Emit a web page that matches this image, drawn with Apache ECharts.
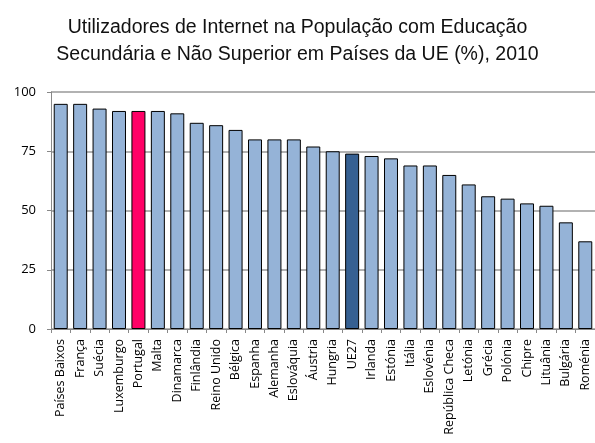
<!DOCTYPE html>
<html><head><meta charset="utf-8">
<script src="https://cdn.jsdelivr.net/npm/echarts@6/dist/echarts.min.js"></script>
<style>html,body{margin:0;padding:0;background:#fff}#c{width:595px;height:443px}</style>
</head><body><div id="c"></div>
<script>
const categories = ["Países Baixos","França","Suécia","Luxemburgo","Portugal","Malta","Dinamarca","Finlândia","Reino Unido","Bélgica","Espanha","Alemanha","Eslováquia","Áustria","Hungria","UE27","Irlanda","Estónia","Itália","Eslovénia","República Checa","Letónia","Grécia","Polónia","Chipre","Lituânia","Bulgária","Roménia"];
const values = [95,95,93,92,92,92,91,87,86,84,80,80,80,77,75,74,73,72,69,69,65,61,56,55,53,52,45,37];
const yTicks = [0,25,50,75,100];
const titleLines = ["Utilizadores de Internet na População com Educação","Secundária e Não Superior em Países da UE (%), 2010"];
const highlight = {"Portugal":"#FF0066","UE27":"#366092"};
const baseColor = "#95B3D7";

const chart = echarts.init(document.getElementById('c'));
chart.setOption({
  animation:false,
  title:{text:titleLines.join("\n"),left:'center',top:9,
    textStyle:{fontFamily:'Liberation Sans',fontSize:19.5,fontWeight:'normal',color:'#111',lineHeight:27}},
  grid:{left:51,right:0,top:92,bottom:114,containLabel:false},
  xAxis:{type:'category',data:categories,
    axisLine:{lineStyle:{color:'#888',width:1}},
    axisTick:{show:true,alignWithLabel:false,length:4,lineStyle:{color:'#888'}},
    axisLabel:{rotate:90,interval:0,fontFamily:'Open Sans',fontSize:12.5,color:'#000',margin:10}},
  yAxis:{type:'value',min:yTicks[0],max:yTicks[yTicks.length-1],interval:25,
    axisLine:{show:true,lineStyle:{color:'#888'}},
    axisTick:{show:true,length:4,lineStyle:{color:'#888'}},
    splitLine:{lineStyle:{color:'#999',width:1.5}},
    axisLabel:{fontFamily:'Open Sans',fontSize:13,color:'#000',margin:15}},
  series:[{type:'bar',barCategoryGap:'28%',
    data:values.map((v,i)=>({value:v,itemStyle:{color:highlight[categories[i]]||baseColor}})),
    itemStyle:{borderColor:'#000',borderWidth:1}}]
});
</script></body></html>
